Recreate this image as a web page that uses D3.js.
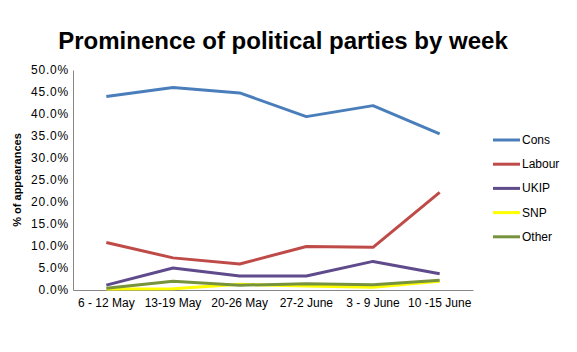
<!DOCTYPE html>
<html>
<head>
<meta charset="utf-8">
<style>
  body { margin: 0; background: #fff; }
  text { font-family: "Liberation Sans", Arial, sans-serif; }
</style>
</head>
<body>
<script src="https://d3js.org/d3.v7.min.js"></script>
<script>
var weeks = ['6 - 12 May', '13-19 May', '20-26 May', '27-2 June', '3 - 9 June', '10 -15 June'];
var parties = ['Cons', 'Labour', 'UKIP', 'SNP', 'Other'];
var colours = ['#4a7ebb', '#be4b48', '#5f4b8b', '#ffff00', '#77933c'];

var cons   = [44.0, 46.0, 44.8, 39.4, 41.9, 35.5];
var labour = [10.8, 7.3, 5.9, 9.9, 9.7, 22.2];
var ukip   = [1.1, 5.0, 3.2, 3.2, 6.5, 3.7];
var snp    = [0.2, 0.3, 1.3, 0.9, 0.6, 2.0];
var other  = [0.4, 2.0, 1.1, 1.4, 1.2, 2.2];
var yTicks = [0, 5, 10, 15, 20, 25, 30, 35, 40, 45, 50];

var series = [cons, labour, ukip, snp, other];

var width = 577, height = 352;
var svg = d3.select('body').append('svg')
    .attr('width', width)
    .attr('height', height);

var x = d3.scaleBand().domain(weeks).range([73, 473]);
var y = d3.scaleLinear().domain([0, 50]).range([290, 70]);

svg.append('text')
    .attr('x', 283).attr('y', 49)
    .attr('text-anchor', 'middle')
    .style('font-size', '24px').style('font-weight', 'bold')
    .text('Prominence of political parties by week');

var yAxis = svg.append('g')
    .attr('transform', 'translate(73,0)')
    .call(d3.axisLeft(y).tickValues(yTicks).tickSize(0).tickPadding(4)
        .tickFormat(function(d) { return d.toFixed(1) + '%'; }));
yAxis.select('.domain').attr('stroke', '#868686');
yAxis.selectAll('text').style('font-size', '12px').style('letter-spacing', '0.8px')
    .style('font-family', '"Liberation Sans", Arial, sans-serif').attr('fill', '#000');

var xAxis = svg.append('g')
    .attr('transform', 'translate(0,290)')
    .call(d3.axisBottom(x).tickSize(0).tickPadding(8));
xAxis.select('.domain').attr('stroke', '#868686');
xAxis.selectAll('text').style('font-size', '12px')
    .style('font-family', '"Liberation Sans", Arial, sans-serif').attr('fill', '#000');

svg.append('text')
    .attr('transform', 'translate(21,180) rotate(-90)')
    .attr('text-anchor', 'middle')
    .style('font-size', '11px').style('font-weight', 'bold')
    .text('% of appearances');

var line = d3.line()
    .x(function(d, i) { return x(weeks[i]) + x.bandwidth() / 2; })
    .y(function(d) { return y(d); });

// SNP underneath, then the rest
var order = [3, 4, 2, 1, 0];
order.forEach(function(k) {
  svg.append('path')
      .datum(series[k])
      .attr('d', line)
      .attr('fill', 'none')
      .attr('stroke', colours[k])
      .attr('stroke-width', 3)
      .attr('stroke-linejoin', 'round');
});

var legend = svg.selectAll('.leg')
    .data(parties)
    .enter().append('g')
    .attr('transform', function(d, i) { return 'translate(493,' + (140 + i * 24.2) + ')'; });
legend.append('line')
    .attr('x1', 0).attr('x2', 27)
    .attr('stroke', function(d, i) { return colours[i]; })
    .attr('stroke-width', 3);
legend.append('text')
    .attr('x', 29).attr('y', 4)
    .style('font-size', '12px')
    .text(function(d) { return d; });
</script>
</body>
</html>
